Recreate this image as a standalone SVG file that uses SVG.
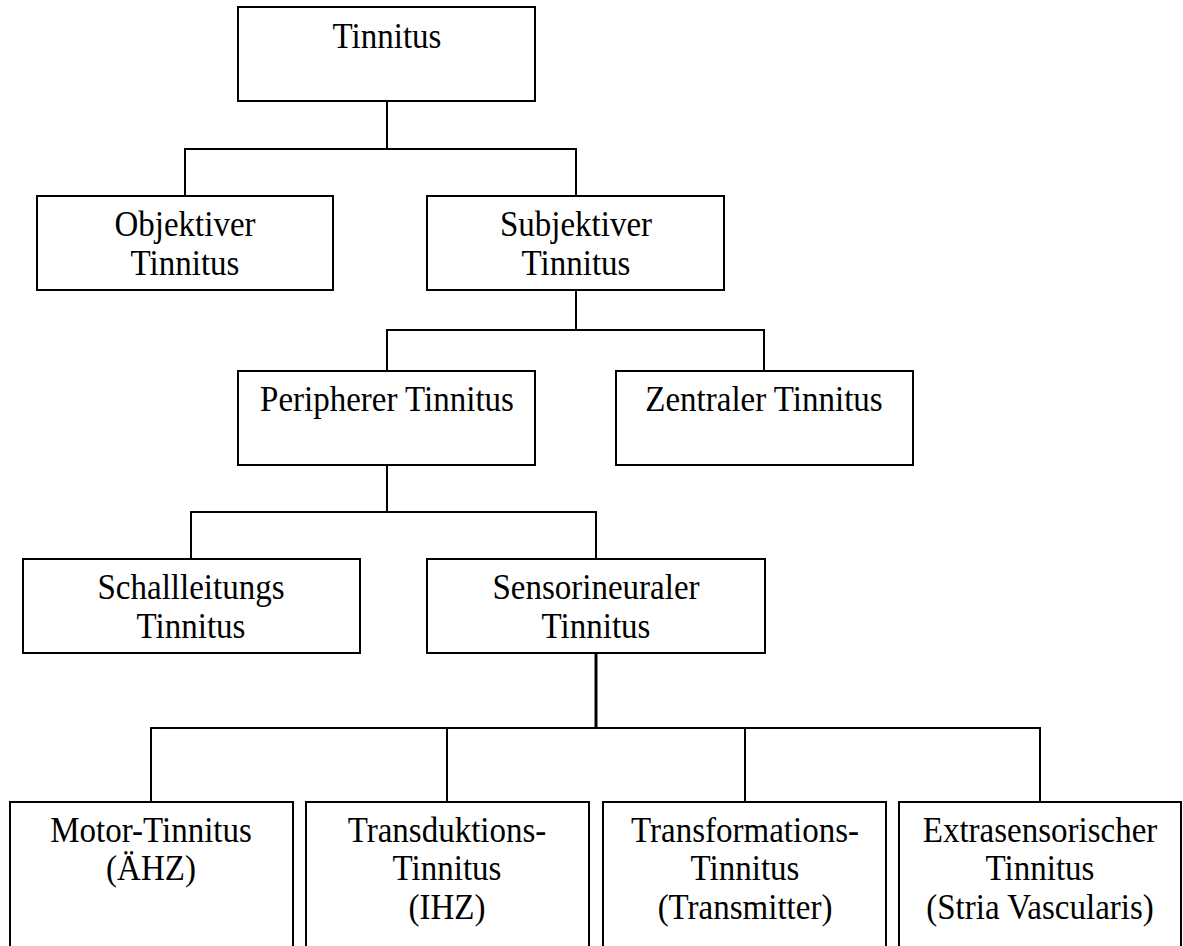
<svg xmlns="http://www.w3.org/2000/svg" width="1183" height="946" viewBox="0 0 1183 946">
<style>
.box{fill:#fff;stroke:#000;stroke-width:2}
.lbl{font-family:"Liberation Serif","Times New Roman",serif;font-size:33px;fill:#000;text-anchor:middle}
.con{fill:none;stroke:#000;stroke-width:2}
</style>
<rect width="1183" height="946" fill="#fff"/>
<g id="connectors">
<path class="con" d="M387 101V149M185 196V149H576V196"/>
<path class="con" d="M576 290V330M387 371V330H764V371"/>
<path class="con" d="M387 465V512M191 559V512H596V559"/>
<path class="con" d="M596 653V728" style="stroke-width:3"/>
<path class="con" d="M151 802V728H1040V802M447 728V802M745 728V802"/>
</g>
<g id="n-tinnitus"><rect class="box" x="238" y="7" width="297" height="94"/><text class="lbl" transform="translate(387 48) scale(1 1.06)">Tinnitus</text></g>
<g id="n-objektiver"><rect class="box" x="37" y="196" width="296" height="94"/><text class="lbl" transform="translate(185 236) scale(1 1.06)">Objektiver</text><text class="lbl" transform="translate(185 275) scale(1 1.06)">Tinnitus</text></g>
<g id="n-subjektiver"><rect class="box" x="427" y="196" width="297" height="94"/><text class="lbl" transform="translate(576 236) scale(1 1.06)">Subjektiver</text><text class="lbl" transform="translate(576 275) scale(1 1.06)">Tinnitus</text></g>
<g id="n-peripherer"><rect class="box" x="238" y="371" width="297" height="94"/><text class="lbl" transform="translate(387 411) scale(1 1.06)">Peripherer Tinnitus</text></g>
<g id="n-zentraler"><rect class="box" x="616" y="371" width="297" height="94"/><text class="lbl" transform="translate(764 411) scale(1 1.06)">Zentraler Tinnitus</text></g>
<g id="n-schallleitungs"><rect class="box" x="23" y="559" width="337" height="94"/><text class="lbl" transform="translate(191 599) scale(1 1.06)">Schallleitungs</text><text class="lbl" transform="translate(191 638) scale(1 1.06)">Tinnitus</text></g>
<g id="n-sensorineuraler"><rect class="box" x="427" y="559" width="338" height="94"/><text class="lbl" transform="translate(596 599) scale(1 1.06)">Sensorineuraler</text><text class="lbl" transform="translate(596 638) scale(1 1.06)">Tinnitus</text></g>
<g id="n-motor"><rect class="box" x="10" y="802" width="283" height="150"/><text class="lbl" transform="translate(151 842) scale(1 1.06)">Motor-Tinnitus</text><text class="lbl" transform="translate(151 880) scale(1 1.06)">(ÄHZ)</text></g>
<g id="n-transduktions"><rect class="box" x="306" y="802" width="283" height="150"/><text class="lbl" transform="translate(447 842) scale(1 1.06)">Transduktions-</text><text class="lbl" transform="translate(447 880) scale(1 1.06)">Tinnitus</text><text class="lbl" transform="translate(447 919) scale(1 1.06)">(IHZ)</text></g>
<g id="n-transformations"><rect class="box" x="603" y="802" width="283" height="150"/><text class="lbl" transform="translate(745 842) scale(1 1.06)">Transformations-</text><text class="lbl" transform="translate(745 880) scale(1 1.06)">Tinnitus</text><text class="lbl" transform="translate(745 919) scale(1 1.06)">(Transmitter)</text></g>
<g id="n-extrasensorischer"><rect class="box" x="899" y="802" width="282" height="150"/><text class="lbl" transform="translate(1040 842) scale(1 1.06)">Extrasensorischer</text><text class="lbl" transform="translate(1040 880) scale(1 1.06)">Tinnitus</text><text class="lbl" transform="translate(1040 919) scale(1 1.06)">(Stria Vascularis)</text></g>
</svg>
